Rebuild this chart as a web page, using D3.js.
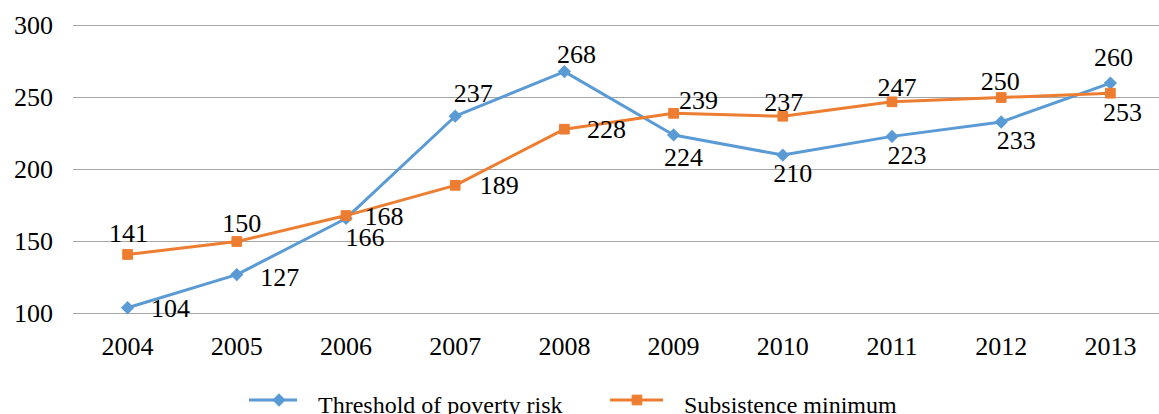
<!DOCTYPE html>
<html>
<head>
<meta charset="utf-8">
<script src="https://cdn.jsdelivr.net/npm/d3@7"></script>
<style>
  html, body { margin: 0; padding: 0; background: #fff; }
  svg { display: block; }
  text { font-family: "Liberation Serif", "Times New Roman", serif; fill: #000; }
</style>
</head>
<body>
<svg id="chart" width="1159" height="414"></svg>
<script>
// Years on the horizontal axis
const years = ["2004", "2005", "2006", "2007", "2008", "2009", "2010", "2011", "2012", "2013"];
// Threshold of poverty risk
const povertyRisk = [104, 127, 166, 237, 268, 224, 210, 223, 233, 260];
// Subsistence minimum
const subsistence = [141, 150, 168, 189, 228, 239, 237, 247, 250, 253];
// Value axis ticks
const yTicks = [100, 150, 200, 250, 300];
const seriesNames = ["Threshold of poverty risk", "Subsistence minimum"];

// Label nudges relative to each marker (layout only)
const riskLabelOffset = [[43, 0], [43, 2], [19, 18], [18, -23], [12, -18], [10, 22], [10, 18], [15, 19], [15, 18], [3, -26]];
const subLabelOffset = [[1, -22], [5, -19], [38, 0], [44, 0], [42, 0], [25, -13], [1, -14], [5, -15], [-1, -17], [12, 19]];

const blue = "#5B9BD5";
const orange = "#ED7D31";
const svg = d3.select("#chart");

const x = d3.scaleBand().domain(years).range([73, 1165]).padding(0);
const cx = d => x(d) + x.bandwidth() / 2;
const y = d3.scaleLinear().domain([100, 300]).range([313.5, 25.5]);

// Horizontal gridlines
svg.append("g").selectAll("line").data(yTicks).join("line")
  .attr("x1", 73).attr("x2", 1159)
  .attr("y1", d => y(d)).attr("y2", d => y(d))
  .attr("stroke", "#a6a6a6").attr("stroke-width", 1);

// Value axis labels
const yAxis = d3.axisLeft(y).tickValues(yTicks).tickSize(0).tickPadding(0);
const gy = svg.append("g").attr("transform", "translate(53,0)").call(yAxis);
gy.select(".domain").remove();
gy.selectAll("text").attr("font-size", 26).attr("font-family", "Liberation Serif").attr("fill", "#000");

// Category axis labels
const xAxis = d3.axisBottom(x).tickSize(0).tickPadding(0);
const gx = svg.append("g").attr("transform", "translate(0,337)").call(xAxis);
gx.select(".domain").remove();
gx.selectAll("text").attr("font-size", 26).attr("font-family", "Liberation Serif").attr("fill", "#000");

const line = d3.line().x((d, i) => cx(years[i])).y(d => y(d));

function markerPath(shape) {
  return shape === "diamond"
    ? d3.symbol().type(d3.symbolDiamond2).size(70)
    : d3.symbol().type(d3.symbolSquare2).size(120);
}

function drawSeries(values, color, shape) {
  const g = svg.append("g");
  g.append("path").datum(values)
    .attr("d", line).attr("fill", "none")
    .attr("stroke", color).attr("stroke-width", 3).attr("stroke-linejoin", "round");
  g.selectAll("path.m").data(values).join("path").attr("class", "m")
    .attr("transform", (d, i) => `translate(${cx(years[i])},${y(d)})`)
    .attr("d", markerPath(shape)).attr("fill", color).attr("stroke", color)
    .attr("stroke-width", shape === "diamond" ? 2 : 1);
}

function drawLabels(values, offsets) {
  svg.append("g").selectAll("text").data(values).join("text")
    .attr("x", (d, i) => cx(years[i]) + offsets[i][0])
    .attr("y", (d, i) => y(d) + offsets[i][1])
    .attr("dy", "0.35em")
    .attr("text-anchor", "middle")
    .attr("font-size", 26)
    .text(d => d);
}

drawSeries(povertyRisk, blue, "diamond");
drawSeries(subsistence, orange, "square");
drawLabels(povertyRisk, riskLabelOffset);
drawLabels(subsistence, subLabelOffset);

// Legend
const legend = [
  { name: seriesNames[0], color: blue, shape: "diamond", x0: 249, w: 48, mark: 30, tx: 318 },
  { name: seriesNames[1], color: orange, shape: "square", x0: 610, w: 53, mark: 27, tx: 684 }
];
const lg = svg.append("g");
legend.forEach(l => {
  lg.append("line").attr("x1", l.x0).attr("x2", l.x0 + l.w)
    .attr("y1", 400).attr("y2", 400).attr("stroke", l.color).attr("stroke-width", 3);
  lg.append("path").attr("transform", `translate(${l.x0 + l.mark},400)`)
    .attr("d", markerPath(l.shape)).attr("fill", l.color).attr("stroke", l.color)
    .attr("stroke-width", l.shape === "diamond" ? 2 : 1);
  lg.append("text").attr("x", l.tx).attr("y", 413)
    .attr("font-size", 24).text(l.name);
});
</script>
</body>
</html>
